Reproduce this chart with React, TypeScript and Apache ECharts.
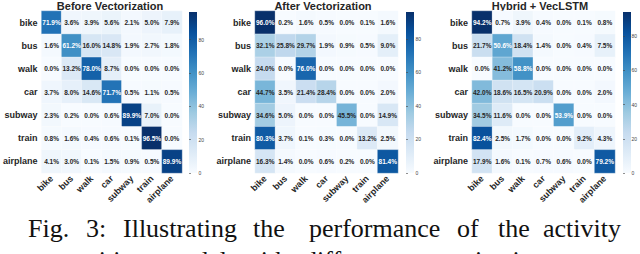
import React, { useEffect, useRef } from "react";
import * as echarts from "echarts";

const classes = ["bike", "bus", "walk", "car", "subway", "train", "airplane"];
const titles = ["Before Vectorization", "After Vectorization", "Hybrid + VecLSTM"];

const beforeVec = [
  [71.9, 3.6, 3.9, 5.6, 2.1, 5.0, 7.9],
  [1.6, 61.2, 16.0, 14.8, 1.9, 2.7, 1.8],
  [0.0, 13.2, 78.0, 8.7, 0.0, 0.0, 0.0],
  [3.7, 8.0, 14.6, 71.7, 0.5, 1.1, 0.5],
  [2.3, 0.2, 0.0, 0.6, 89.9, 7.0, 0.0],
  [0.8, 1.6, 0.4, 0.6, 0.1, 96.5, 0.0],
  [4.1, 3.0, 0.1, 1.5, 0.9, 0.5, 89.9],
];
const afterVec = [
  [96.0, 0.2, 1.6, 0.5, 0.0, 0.1, 1.6],
  [32.1, 25.8, 29.7, 1.9, 0.9, 0.5, 9.0],
  [24.0, 0.0, 76.0, 0.0, 0.0, 0.0, 0.0],
  [44.7, 3.5, 21.4, 28.4, 0.0, 0.0, 2.0],
  [34.6, 5.0, 0.0, 0.0, 45.5, 0.0, 14.9],
  [80.3, 3.7, 0.1, 0.3, 0.0, 13.2, 2.5],
  [16.3, 1.4, 0.0, 0.6, 0.2, 0.0, 81.4],
];
const hybridVec = [
  [94.2, 0.7, 3.9, 0.4, 0.0, 0.1, 0.8],
  [21.7, 50.6, 18.4, 1.4, 0.0, 0.4, 7.5],
  [0.0, 41.2, 58.8, 0.0, 0.0, 0.0, 0.0],
  [42.0, 18.6, 16.5, 20.9, 0.0, 0.0, 2.0],
  [34.5, 11.6, 0.0, 0.0, 53.9, 0.0, 0.0],
  [82.4, 2.5, 1.7, 0.0, 0.0, 9.2, 4.3],
  [17.9, 1.6, 0.1, 0.7, 0.6, 0.0, 79.2],
];
const colorbarTicks = [0, 20, 40, 60, 80];

const captionLine1 = ["Fig.", "3:", "Illustrating", "the", "performance", "of", "the", "activity"];
const captionLine2 = ["recognition", "model", "with", "different", "vectorization", "types."];

const blues = ["#f7fbff", "#deebf7", "#c6dbef", "#9ecae1", "#6baed6", "#4292c6", "#2171b5", "#08519c", "#08306b"];

// layout
const gridLefts = [39, 255, 472];
const gridTop = 11;
const gridW = 143;
const gridH = 162;
const cbLefts = [189, 406, 623];
const cbW = 8;
const titleCenters = [110, 323, 540];
const line1X = [28, 86, 123, 253, 309, 457, 498, 543];
const line2X = [28, 162, 242, 304, 410, 562];

const matrices = [beforeVec, afterVec, hybridVec];
const FONT = "Liberation Sans, Arial, sans-serif";
const SERIF = "Liberation Serif, Times New Roman, serif";

export default function App() {
  const ref = useRef<HTMLDivElement>(null);
  useEffect(() => {
    const chart = echarts.init(ref.current!, undefined, { renderer: "svg" });
    const grids: any[] = [];
    const xAxes: any[] = [];
    const yAxes: any[] = [];
    const series: any[] = [];
    const visualMaps: any[] = [];
    const graphics: any[] = [];

    matrices.forEach((m, k) => {
      const vmax = Math.max(...m.flat());
      const data: any[] = [];
      m.forEach((row, r) =>
        row.forEach((v, c) => {
          data.push({
            value: [c, r, v],
            label: { color: v / vmax >= 0.49 ? "#ffffff" : "#262626" },
          });
        })
      );
      grids.push({ left: gridLefts[k], top: gridTop, width: gridW, height: gridH });
      xAxes.push({
        type: "category",
        data: classes,
        gridIndex: grids.length - 1,
        axisLine: { show: false },
        axisTick: { show: false },
        splitLine: { show: false },
        axisLabel: { rotate: 45, fontSize: 9, fontWeight: "bold", fontFamily: FONT, color: "#262626", margin: 4, interval: 0 },
      });
      yAxes.push({
        type: "category",
        data: classes,
        inverse: true,
        gridIndex: grids.length - 1,
        axisLine: { show: false },
        axisTick: { show: false },
        splitLine: { show: false },
        axisLabel: { fontSize: 9, fontWeight: "bold", fontFamily: FONT, color: "#262626", margin: 4, interval: 0 },
      });
      const sIdx = series.length;
      series.push({
        type: "heatmap",
        xAxisIndex: xAxes.length - 1,
        yAxisIndex: yAxes.length - 1,
        data,
        itemStyle: { borderColor: "rgba(255,255,255,0.55)", borderWidth: 0.6 },
        label: {
          show: true,
          fontSize: 6.5,
          fontWeight: "bold",
          fontFamily: FONT,
          formatter: (p: any) => p.value[2].toFixed(1) + "%",
        },
        emphasis: { disabled: true },
      });
      visualMaps.push({
        type: "continuous",
        show: false,
        min: 0,
        max: vmax,
        seriesIndex: sIdx,
        dimension: 2,
        inRange: { color: blues },
      });
      grids.push({ left: cbLefts[k], top: gridTop + 1, width: cbW, height: gridH - 1 });
      xAxes.push({ type: "value", gridIndex: grids.length - 1, show: false, min: 0, max: 1 });
      yAxes.push({
        type: "value",
        gridIndex: grids.length - 1,
        position: "right",
        min: 0,
        max: vmax,
        axisLine: { show: false },
        splitLine: { show: false },
        axisTick: { show: true, length: 2, lineStyle: { color: "#444", width: 0.6 }, customValues: colorbarTicks },
        axisLabel: { fontSize: 5, color: "#444", fontFamily: FONT, margin: 1.5, customValues: colorbarTicks },
      });
      graphics.push({
        type: "rect",
        shape: { x: cbLefts[k], y: gridTop + 1, width: cbW, height: gridH - 1 },
        style: {
          fill: new echarts.graphic.LinearGradient(
            0, 1, 0, 0,
            blues.map((c, i) => ({ offset: i / (blues.length - 1), color: c }))
          ),
        },
        z: -1,
      });
      graphics.push({
        type: "text",
        x: titleCenters[k],
        y: 6,
        style: {
          text: titles[k],
          fontSize: 11,
          fontWeight: "bold",
          fontFamily: FONT,
          fill: "#262626",
          align: "center",
          verticalAlign: "middle",
        },
      });
    });

    captionLine1.forEach((w, i) => {
      graphics.push({
        type: "text",
        x: line1X[i],
        y: 228,
        style: { text: w, fontSize: 26, fontFamily: SERIF, fill: "#111", align: "left", verticalAlign: "middle" },
      });
    });
    captionLine2.forEach((w, i) => {
      graphics.push({
        type: "text",
        x: line2X[i],
        y: 260,
        style: { text: w, fontSize: 26, fontFamily: SERIF, fill: "#111", align: "left", verticalAlign: "middle" },
      });
    });

    chart.setOption({
      animation: false,
      backgroundColor: "#ffffff",
      grid: grids,
      xAxis: xAxes,
      yAxis: yAxes,
      visualMap: visualMaps,
      series,
      graphic: graphics,
    });
    return () => chart.dispose();
  }, []);
  return <div ref={ref} style={{ position: "absolute", left: 0, top: 0, width: 640, height: 254, overflow: "hidden" }} />;
}
